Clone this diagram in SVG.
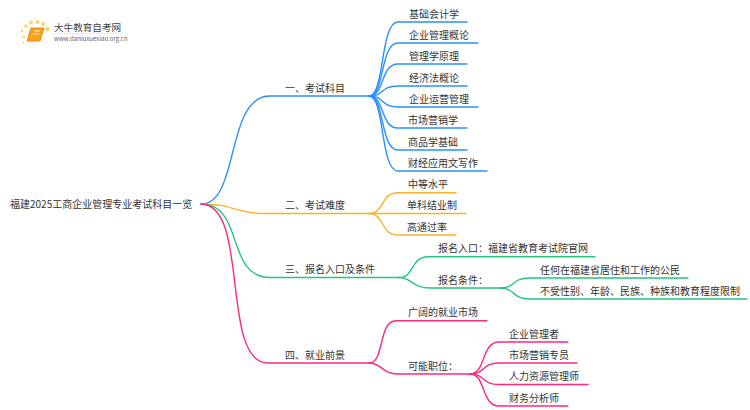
<svg xmlns="http://www.w3.org/2000/svg" width="750" height="410" viewBox="0 0 750 410">
<style>
text{font-family:"Noto Sans CJK SC","Noto Sans",sans-serif;font-size:10px;fill:#333}
.c path{fill:none;stroke-width:1.4;stroke-linecap:round}
.b path{stroke:#2b90ff}.o path{stroke:#fbb127}.g path{stroke:#22c77d}.p path{stroke:#fb2a7f}
</style>
<rect width="750" height="410" fill="#fff"/>
<g id="logo">
<g fill="#fbd36b"><circle cx="26" cy="26" r="1.8"/><circle cx="22" cy="31" r="1.3"/><circle cx="31" cy="22.500" r="2"/><circle cx="37.500" cy="22" r="2"/><circle cx="43" cy="24" r="2"/><circle cx="47.500" cy="29" r="2.200"/><circle cx="24" cy="37" r="1.200"/><circle cx="23.500" cy="42.500" r="1"/></g>
<path d="M31 28H44L40 41H27Z" fill="#f9a11b" stroke="#ee8a12" stroke-width="1"/>
<path d="M34 31H40M33 34H39" stroke="#fff3c8" stroke-width="1" fill="none"/>
<text x="54" y="31" style="font-size:9.6px;fill:#444">大牛教育自考网</text>
<path d="M54 33.500H121" stroke="#ddd" stroke-width=".6"/>
<text x="54" y="41" style="font-size:6.100px;fill:#666">www.daniuxuexiao.org.cn</text>
</g>
<g id="connectors" class="c">
<g class="b">
<path d="M201 204C240 204 225 96 270 96H369"/>
<path d="M369 96C385 96 380 22 398 22H467"/>
<path d="M369 96C385 96 380 43 398 43H478"/>
<path d="M369 96C385 96 380 64 398 64H467"/>
<path d="M369 96C385 96 380 86 398 86H467"/>
<path d="M369 96C385 96 380 107 398 107H478"/>
<path d="M369 96C385 96 380 128 398 128H467"/>
<path d="M369 96C385 96 380 150 398 150H467"/>
<path d="M369 96C385 96 380 171 398 171H487"/>
</g>
<g class="o">
<path d="M201 204C235 204 235 213.500 262 213.500H369"/>
<path d="M369 213.500C385 213.500 380 192.700 398 192.700H456"/>
<path d="M369 213.500H466"/>
<path d="M369 213.500C385 213.500 380 235 398 235H456"/>
</g>
<g class="g">
<path d="M201 204C245 204 225 277.500 270 277.500H399"/>
<path d="M399 277.500C415 277.500 410 256.700 428 256.700H595"/>
<path d="M399 277.500C412 277.500 412 288 430 288H500"/>
<path d="M500 288C516 288 511 278 530 278H688"/>
<path d="M500 288C516 288 511 299 530 299H747"/>
</g>
<g class="p">
<path d="M201 204C250 204 220 363 268 363H369"/>
<path d="M369 363C385 363 378 320.700 396 320.700H487"/>
<path d="M369 363C382 363 382 374 398 374H470"/>
<path d="M470 374C486 374 481 342 499 342H568"/>
<path d="M470 374C486 374 481 363 499 363H577"/>
<path d="M470 374C486 374 481 384.500 499 384.500H588"/>
<path d="M470 374C486 374 481 406 499 406H568"/>
</g>
</g>
<g id="root"><text x="10" y="208">福建2025工商企业管理专业考试科目一览</text></g>
<g id="n1"><text x="285" y="92">一、考试科目</text></g>
<g id="n1a"><text x="409" y="17.500">基础会计学</text></g>
<g id="n1b"><text x="409" y="38.500">企业管理概论</text></g>
<g id="n1c"><text x="409" y="60">管理学原理</text></g>
<g id="n1d"><text x="409" y="81.500">经济法概论</text></g>
<g id="n1e"><text x="409" y="102.500">企业运营管理</text></g>
<g id="n1f"><text x="408" y="124">市场营销学</text></g>
<g id="n1g"><text x="408" y="145.500">商品学基础</text></g>
<g id="n1h"><text x="408" y="166.500">财经应用文写作</text></g>
<g id="n2"><text x="285" y="209">二、考试难度</text></g>
<g id="n2a"><text x="408" y="187.500">中等水平</text></g>
<g id="n2b"><text x="407" y="209">单科结业制</text></g>
<g id="n2c"><text x="407" y="231">高通过率</text></g>
<g id="n3"><text x="285" y="273">三、报名入口及条件</text></g>
<g id="n3a"><text x="438" y="252">报名入口：福建省教育考试院官网</text></g>
<g id="n3b"><text x="438" y="284">报名条件：</text></g>
<g id="n3c"><text x="540" y="273.500">任何在福建省居住和工作的公民</text></g>
<g id="n3d"><text x="540" y="295">不受性别、年龄、民族、种族和教育程度限制</text></g>
<g id="n4"><text x="285" y="359">四、就业前景</text></g>
<g id="n4a"><text x="408" y="316">广阔的就业市场</text></g>
<g id="n4b"><text x="408" y="370">可能职位：</text></g>
<g id="n4c"><text x="509" y="338">企业管理者</text></g>
<g id="n4d"><text x="509" y="359">市场营销专员</text></g>
<g id="n4e"><text x="509" y="380">人力资源管理师</text></g>
<g id="n4f"><text x="509" y="402">财务分析师</text></g>
</svg>
